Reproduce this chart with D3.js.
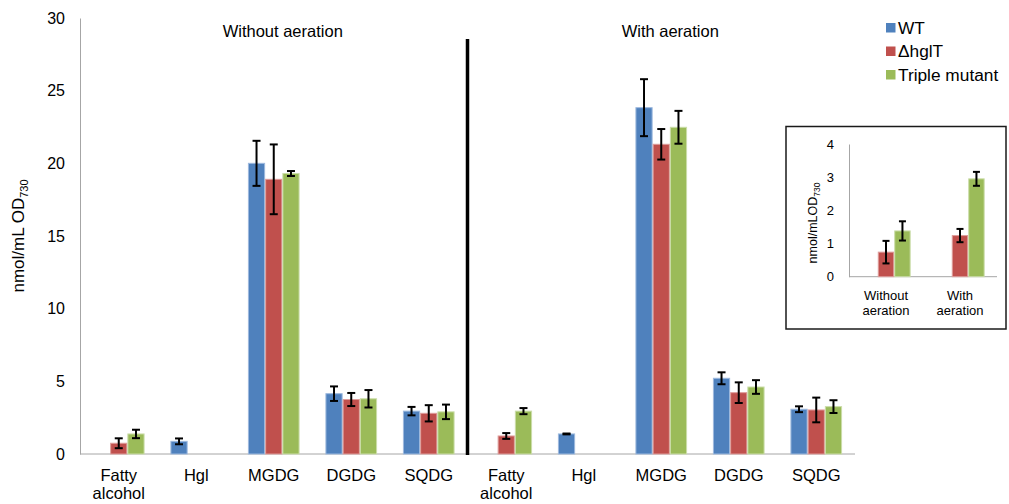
<!DOCTYPE html>
<html>
<head>
<meta charset="utf-8">
<script src="https://cdn.jsdelivr.net/npm/d3@7"></script>
<style>
  html, body { margin: 0; padding: 0; background: #fff; }
  svg { display: block; font-family: "Liberation Sans", Arial, sans-serif; }
</style>
</head>
<body>
<svg id="chart" width="1009" height="504"></svg>
<script>
// Lipid classes, growth conditions and strains
const categories = ["Fatty alcohol", "Hgl", "MGDG", "DGDG", "SQDG"];
const conditions = ["Without aeration", "With aeration"];
const insetLabels = [["Without", "aeration"], ["With", "aeration"]];
const series = ["WT", "\u0394hglT", "Triple mutant"];
const colors = ["#4F81BD", "#C0504D", "#9BBB59"];
const edgeColors = ["#9DB9DE", "#DE9D9B", "#CBDDA9"];
const yTicks = [0, 5, 10, 15, 20, 25, 30];
const insetTicks = [0, 1, 2, 3, 4];

// nmol/mL OD730, without aeration
const wtWithout      = [null, 0.87, 20.0, 4.15, 2.95];
const wtWithoutErr   = [null, 0.20, 1.55, 0.50, 0.29];
const hglWithout     = [0.74, null, 18.9, 3.75, 2.80];
const hglWithoutErr  = [0.34, null, 2.40, 0.45, 0.56];
const tripWithout    = [1.38, null, 19.3, 3.80, 2.90];
const tripWithoutErr = [0.29, null, 0.17, 0.60, 0.50];

// nmol/mL OD730, with aeration
const wtWith      = [null, 1.38, 23.83, 5.21, 3.08];
const wtWithErr   = [null, 0.03, 1.96, 0.41, 0.20];
const hglWith     = [1.24, null, 21.31, 4.22, 3.03];
const hglWithErr  = [0.20, null, 1.05, 0.71, 0.85];
const tripWith    = [2.95, null, 22.48, 4.61, 3.26];
const tripWithErr = [0.21, null, 1.13, 0.47, 0.44];

const values = [
  [wtWithout, hglWithout, tripWithout],
  [wtWith, hglWith, tripWith]
];
const errors = [
  [wtWithoutErr, hglWithoutErr, tripWithoutErr],
  [wtWithErr, hglWithErr, tripWithErr]
];

const svg = d3.select("#chart");
const font = "'Liberation Sans', Arial, sans-serif";

// ---------- main chart ----------
const slots = [];
conditions.forEach((c, ci) => categories.forEach((cat, ki) => slots.push({ ci, ki, cat, key: ci + "|" + cat })));

const x0 = d3.scaleBand().domain(slots.map(d => d.key)).range([80, 855])
  .paddingInner(1 / 3).paddingOuter(1 / 6);
const x1 = d3.scaleBand().domain(series).range([0, x0.bandwidth()]);
const y = d3.scaleLinear().domain([0, 30]).range([454, 18]);

const bars = [];
slots.forEach(s => series.forEach((name, si) => {
  const v = values[s.ci][si][s.ki];
  if (v != null) bars.push({ slot: s, si, name, v, e: errors[s.ci][si][s.ki] });
}));

const yAxis = d3.axisLeft(y).tickValues(yTicks).tickFormat(d3.format("d"))
  .tickSize(0).tickSizeOuter(0).tickPadding(15);
const gy = svg.append("g").attr("transform", "translate(80,0)").call(yAxis);
gy.select(".domain").attr("stroke", "#a6a6a6").attr("stroke-width", 1);
gy.selectAll("text").attr("font-size", 16).attr("font-family", font).attr("fill", "#000");

svg.append("line").attr("x1", 80).attr("x2", 855).attr("y1", y(0)).attr("y2", y(0))
  .attr("stroke", "#a6a6a6").attr("stroke-width", 1);

svg.append("g").selectAll("rect").data(bars).join("rect")
  .attr("x", d => x0(d.slot.key) + x1(d.name) + 0.5)
  .attr("y", d => y(d.v))
  .attr("width", x1.bandwidth() - 1)
  .attr("height", d => y(0) - y(d.v))
  .attr("fill", d => colors[d.si])
  .attr("stroke", d => edgeColors[d.si])
  .attr("stroke-width", 1);

function drawErrors(g, data, xf, yf, cap) {
  const eb = g.append("g").selectAll("g").data(data).join("g")
    .attr("stroke", "#000").attr("stroke-width", 2);
  eb.append("line").attr("x1", xf).attr("x2", xf)
    .attr("y1", d => yf(d.v + d.e)).attr("y2", d => yf(d.v - d.e));
  eb.append("line").attr("x1", d => xf(d) - cap).attr("x2", d => xf(d) + cap)
    .attr("y1", d => yf(d.v + d.e)).attr("y2", d => yf(d.v + d.e));
  eb.append("line").attr("x1", d => xf(d) - cap).attr("x2", d => xf(d) + cap)
    .attr("y1", d => yf(d.v - d.e)).attr("y2", d => yf(d.v - d.e));
}
drawErrors(svg, bars, d => x0(d.slot.key) + x1(d.name) + x1.bandwidth() / 2, y, 4);

// category labels
const catLabels = svg.append("g").selectAll("text").data(slots).join("text")
  .attr("text-anchor", "middle").attr("font-size", 16.5).attr("font-family", font).attr("fill", "#000")
  .attr("transform", d => `translate(${x0(d.key) + x0.bandwidth() / 2},481)`);
catLabels.each(function (d) {
  const words = d.cat === "Fatty alcohol" ? ["Fatty", "alcohol"] : [d.cat];
  d3.select(this).selectAll("tspan").data(words).join("tspan")
    .attr("x", 0).attr("dy", (w, i) => i === 0 ? 0 : 18).text(w => w);
});

// condition titles
conditions.forEach((c, ci) => {
  const mid = x0(ci + "|MGDG") + x0.bandwidth() / 2 + 9;
  svg.append("text").attr("x", mid).attr("y", 37).attr("text-anchor", "middle")
    .attr("font-size", 16.5).attr("font-family", font).text(c);
});

// divider between conditions
const divX = x0(1 + "|" + categories[0]) - x0.step() * x0.paddingOuter();
svg.append("line").attr("x1", divX).attr("x2", divX).attr("y1", 39).attr("y2", 455)
  .attr("stroke", "#000").attr("stroke-width", 3.5);

// y-axis title
const yt = svg.append("text").attr("transform", "translate(24,236) rotate(-90)")
  .attr("text-anchor", "middle").attr("font-size", 17).attr("font-family", font);
yt.append("tspan").text("nmol/mL OD");
yt.append("tspan").attr("font-size", 11).attr("dy", 4).text("730");

// legend
const lg = svg.append("g").selectAll("g").data(series).join("g")
  .attr("transform", (d, i) => `translate(886,${23 + i * 23.5})`);
lg.append("rect").attr("width", 9.5).attr("height", 9.5).attr("fill", (d, i) => colors[i]);
lg.append("text").attr("x", 12).attr("y", 10.5).attr("font-size", 17.3)
  .attr("font-family", font).text(d => d);

// ---------- inset: fatty alcohol ----------
svg.append("rect").attr("x", 786).attr("y", 126.5).attr("width", 220).attr("height", 202.5)
  .attr("fill", "#fff").attr("stroke", "#1a1a1a").attr("stroke-width", 1.5);

const xi0 = d3.scaleBand().domain(conditions).range([849, 997]).paddingInner(1 / 3).paddingOuter(1 / 6);
const xi1 = d3.scaleBand().domain(series).range([0, xi0.bandwidth()]);
const yi = d3.scaleLinear().domain([0, 4]).range([276.7, 144]);

const fa = categories.indexOf("Fatty alcohol");
const insetBars = [];
conditions.forEach((c, ci) => series.forEach((name, si) => {
  const v = values[ci][si][fa];
  if (v != null) insetBars.push({ c, si, name, v, e: errors[ci][si][fa] });
}));

const giy = svg.append("g").attr("transform", "translate(849,0)")
  .call(d3.axisLeft(yi).tickValues(insetTicks).tickFormat(d3.format("d"))
    .tickSize(0).tickSizeOuter(0).tickPadding(15));
giy.select(".domain").attr("stroke", "#a6a6a6");
giy.selectAll("text").attr("font-size", 13).attr("font-family", font).attr("fill", "#000");
svg.append("line").attr("x1", 849).attr("x2", 997).attr("y1", yi(0)).attr("y2", yi(0))
  .attr("stroke", "#a6a6a6");

svg.append("g").selectAll("rect").data(insetBars).join("rect")
  .attr("x", d => xi0(d.c) + xi1(d.name) + 0.5)
  .attr("y", d => yi(d.v))
  .attr("width", xi1.bandwidth() - 1)
  .attr("height", d => yi(0) - yi(d.v))
  .attr("fill", d => colors[d.si])
  .attr("stroke", d => edgeColors[d.si]);
drawErrors(svg, insetBars, d => xi0(d.c) + xi1(d.name) + xi1.bandwidth() / 2, yi, 3.5);

const il = svg.append("g").selectAll("text").data(conditions).join("text")
  .attr("text-anchor", "middle").attr("font-size", 13).attr("font-family", font)
  .attr("transform", d => `translate(${xi0(d) + xi0.bandwidth() / 2},300)`);
il.each(function (d, i) {
  d3.select(this).selectAll("tspan").data(insetLabels[i]).join("tspan")
    .attr("x", 0).attr("dy", (w, k) => k === 0 ? 0 : 15).text(w => w);
});

const iyt = svg.append("text").attr("transform", "translate(817,223) rotate(-90)")
  .attr("text-anchor", "middle").attr("font-size", 12.5).attr("font-family", font);
iyt.append("tspan").text("nmol/mLOD");
iyt.append("tspan").attr("font-size", 8.5).attr("dy", 3).text("730");
</script>
</body>
</html>
